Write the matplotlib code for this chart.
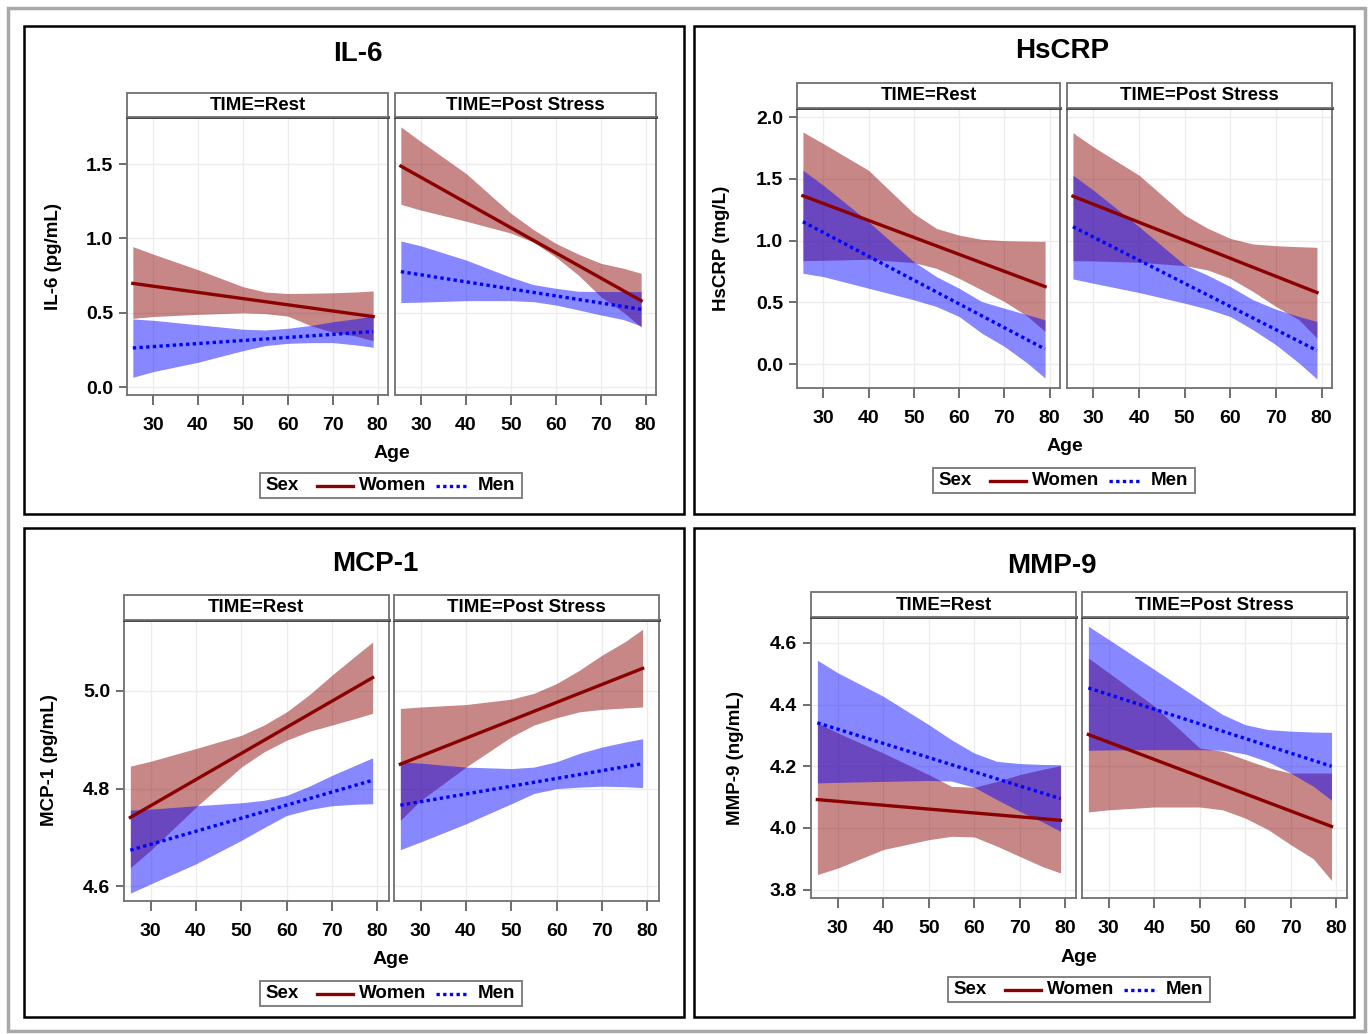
import matplotlib
matplotlib.use('Agg')
import matplotlib.pyplot as plt
from matplotlib.patches import Rectangle
from matplotlib.lines import Line2D


# ==========================================
# DATA
# ==========================================

AGES = [25.5, 30, 40, 50, 55, 60, 65, 70, 75, 79]   # ages of the band outline
LINE_AGES = [25.5, 79]                               # fitted lines are straight
AGE_TICKS = [30, 40, 50, 60, 70, 80]
TIMES = ['Rest', 'Post Stress']
SEXES = ['Women', 'Men']

# IL-6, TIME=Rest
il6_rest_w_lo = [0.463, 0.475, 0.49, 0.50, 0.495, 0.478, 0.415, 0.37, 0.345, 0.313]
il6_rest_w_hi = [0.945, 0.895, 0.79, 0.676, 0.64, 0.63, 0.632, 0.635, 0.64, 0.647]
il6_rest_m_lo = [0.067, 0.105, 0.168, 0.246, 0.28, 0.295, 0.30, 0.30, 0.285, 0.269]
il6_rest_m_hi = [0.459, 0.45, 0.42, 0.39, 0.385, 0.396, 0.415, 0.44, 0.46, 0.479]
il6_rest_w_fit = [0.698, 0.475]
il6_rest_m_fit = [0.264, 0.374]
# IL-6, TIME=Post Stress
il6_post_w_lo = [1.229, 1.19, 1.116, 1.036, 0.975, 0.875, 0.754, 0.609, 0.505, 0.403]
il6_post_w_hi = [1.75, 1.65, 1.437, 1.169, 1.06, 0.967, 0.895, 0.833, 0.80, 0.766]
il6_post_m_lo = [0.569, 0.572, 0.582, 0.582, 0.575, 0.553, 0.52, 0.486, 0.455, 0.412]
il6_post_m_hi = [0.983, 0.95, 0.855, 0.739, 0.69, 0.665, 0.645, 0.643, 0.643, 0.643]
il6_post_w_fit = [1.486, 0.582]
il6_post_m_fit = [0.777, 0.524]

# HsCRP, TIME=Rest
crp_rest_w_lo = [0.837, 0.84, 0.848, 0.821, 0.775, 0.694, 0.60, 0.506, 0.39, 0.264]
crp_rest_w_hi = [1.879, 1.785, 1.569, 1.219, 1.098, 1.044, 1.01, 0.999, 0.995, 0.993]
crp_rest_m_lo = [0.735, 0.708, 0.614, 0.52, 0.466, 0.385, 0.25, 0.143, 0.01, -0.113]
crp_rest_m_hi = [1.569, 1.448, 1.152, 0.829, 0.708, 0.614, 0.506, 0.452, 0.40, 0.358]
crp_rest_w_fit = [1.362, 0.627]
crp_rest_m_fit = [1.152, 0.121]
# HsCRP, TIME=Post Stress
crp_post_w_lo = [0.837, 0.835, 0.824, 0.797, 0.762, 0.694, 0.587, 0.466, 0.36, 0.21]
crp_post_w_hi = [1.873, 1.758, 1.529, 1.206, 1.10, 1.017, 0.972, 0.958, 0.95, 0.945]
crp_post_m_lo = [0.689, 0.654, 0.579, 0.493, 0.445, 0.385, 0.277, 0.156, 0.01, -0.121]
crp_post_m_hi = [1.529, 1.408, 1.112, 0.802, 0.72, 0.627, 0.52, 0.444, 0.385, 0.345]
crp_post_w_fit = [1.359, 0.579]
crp_post_m_fit = [1.112, 0.11]

# MCP-1, TIME=Rest
mcp_rest_w_lo = [4.638, 4.674, 4.762, 4.844, 4.875, 4.899, 4.917, 4.93, 4.943, 4.954]
mcp_rest_w_hi = [4.846, 4.856, 4.882, 4.909, 4.93, 4.957, 4.992, 5.032, 5.07, 5.100]
mcp_rest_m_lo = [4.586, 4.605, 4.646, 4.694, 4.72, 4.745, 4.757, 4.765, 4.768, 4.769]
mcp_rest_m_hi = [4.756, 4.758, 4.765, 4.771, 4.776, 4.786, 4.805, 4.827, 4.847, 4.863]
mcp_rest_w_fit = [4.741, 5.027]
mcp_rest_m_fit = [4.674, 4.817]
# MCP-1, TIME=Post Stress
mcp_post_w_lo = [4.735, 4.776, 4.844, 4.906, 4.93, 4.945, 4.957, 4.962, 4.965, 4.967]
mcp_post_w_hi = [4.964, 4.967, 4.972, 4.983, 4.995, 5.015, 5.042, 5.073, 5.10, 5.126]
mcp_post_m_lo = [4.675, 4.691, 4.728, 4.769, 4.79, 4.80, 4.803, 4.805, 4.804, 4.802]
mcp_post_m_hi = [4.855, 4.852, 4.844, 4.841, 4.844, 4.855, 4.872, 4.885, 4.895, 4.902]
mcp_post_w_fit = [4.85, 5.046]
mcp_post_m_fit = [4.766, 4.851]

# MMP-9, TIME=Rest
mmp_rest_w_lo = [3.849, 3.87, 3.93, 3.962, 3.973, 3.971, 3.941, 3.908, 3.875, 3.854]
mmp_rest_w_hi = [4.341, 4.308, 4.243, 4.173, 4.135, 4.132, 4.151, 4.173, 4.19, 4.202]
mmp_rest_m_lo = [4.146, 4.148, 4.151, 4.154, 4.152, 4.132, 4.092, 4.054, 4.02, 3.989]
mmp_rest_m_hi = [4.544, 4.503, 4.427, 4.335, 4.286, 4.243, 4.216, 4.209, 4.206, 4.205]
mmp_rest_w_fit = [4.092, 4.025]
mmp_rest_m_fit = [4.341, 4.095]
# MMP-9, TIME=Post Stress
mmp_post_w_lo = [4.052, 4.059, 4.068, 4.068, 4.059, 4.032, 3.995, 3.946, 3.90, 3.83]
mmp_post_w_hi = [4.551, 4.503, 4.395, 4.259, 4.249, 4.222, 4.196, 4.178, 4.178, 4.178]
mmp_post_m_lo = [4.252, 4.253, 4.254, 4.254, 4.252, 4.240, 4.215, 4.178, 4.135, 4.09]
mmp_post_m_hi = [4.654, 4.611, 4.514, 4.416, 4.368, 4.335, 4.319, 4.314, 4.311, 4.31]
mmp_post_w_fit = [4.303, 4.005]
mmp_post_m_fit = [4.454, 4.2]


# ==========================================
# LAYOUT (pixel positions on a 1372x1034 canvas)
# ==========================================

W, H = 1372, 1034
WOMEN_COLOR = '#8b0000'
MEN_COLOR = '#0000ff'
FRAME_COLOR = '#707070'

PANELS = [
    dict(title='IL-6', ylabel='IL-6 (pg/mL)',
         box=(24, 26, 684, 514), title_xy=(358, 54),
         facets=[(127, 388), (395, 656)], head=(93, 117), bottom=395,
         xlim=(24.2, 82.3), ylim=(-0.052, 1.816), yticks=[0.0, 0.5, 1.0, 1.5],
         ylabel_xy=(54, 256), age_xy=(391.5, 453), legend_xy=(260, 473),
         data=[(il6_rest_w_lo, il6_rest_w_hi, il6_rest_m_lo, il6_rest_m_hi, il6_rest_w_fit, il6_rest_m_fit),
               (il6_post_w_lo, il6_post_w_hi, il6_post_m_lo, il6_post_m_hi, il6_post_w_fit, il6_post_m_fit)]),
    dict(title='HsCRP', ylabel='HsCRP (mg/L)',
         box=(694, 26, 1354, 514), title_xy=(1062, 51),
         facets=[(797, 1060), (1067, 1332)], head=(83, 108), bottom=388,
         xlim=(24.2, 82.3), ylim=(-0.194, 2.073), yticks=[0.0, 0.5, 1.0, 1.5, 2.0],
         ylabel_xy=(721, 248), age_xy=(1064.5, 447), legend_xy=(933, 468),
         data=[(crp_rest_w_lo, crp_rest_w_hi, crp_rest_m_lo, crp_rest_m_hi, crp_rest_w_fit, crp_rest_m_fit),
               (crp_post_w_lo, crp_post_w_hi, crp_post_m_lo, crp_post_m_hi, crp_post_w_fit, crp_post_m_fit)]),
    dict(title='MCP-1', ylabel='MCP-1 (pg/mL)',
         box=(24, 528, 684, 1017), title_xy=(375, 564),
         facets=[(124, 388.5), (394, 658.5)], head=(595, 620), bottom=901,
         xlim=(24.1, 82.5), ylim=(4.570, 5.145), yticks=[4.6, 4.8, 5.0],
         ylabel_xy=(49, 760), age_xy=(391, 960), legend_xy=(260, 981),
         data=[(mcp_rest_w_lo, mcp_rest_w_hi, mcp_rest_m_lo, mcp_rest_m_hi, mcp_rest_w_fit, mcp_rest_m_fit),
               (mcp_post_w_lo, mcp_post_w_hi, mcp_post_m_lo, mcp_post_m_hi, mcp_post_w_fit, mcp_post_m_fit)]),
    dict(title='MMP-9', ylabel='MMP-9 (ng/mL)',
         box=(694, 528, 1354, 1017), title_xy=(1052, 566),
         facets=[(811, 1076), (1082, 1347)], head=(592, 617), bottom=898,
         xlim=(24.1, 82.4), ylim=(3.773, 4.684), yticks=[3.8, 4.0, 4.2, 4.4, 4.6],
         ylabel_xy=(736, 758), age_xy=(1079, 957), legend_xy=(948, 977),
         data=[(mmp_rest_w_lo, mmp_rest_w_hi, mmp_rest_m_lo, mmp_rest_m_hi, mmp_rest_w_fit, mmp_rest_m_fit),
               (mmp_post_w_lo, mmp_post_w_hi, mmp_post_m_lo, mmp_post_m_hi, mmp_post_w_fit, mmp_post_m_fit)]),
]


def fx(x):
    return x / W


def fy(y):
    return 1 - y / H


def add_rect(fig, x0, y0, x1, y1, **kw):
    fig.add_artist(Rectangle((fx(x0), fy(y1)), (x1 - x0) / W, (y1 - y0) / H,
                             transform=fig.transFigure, **kw))


def draw_facet(fig, panel, idx):
    x0, x1 = panel['facets'][idx]
    top, bottom = panel['head'][1], panel['bottom']
    w_lo, w_hi, m_lo, m_hi, w_fit, m_fit = panel['data'][idx]

    ax = fig.add_axes([fx(x0), fy(bottom), (x1 - x0) / W, (bottom - top) / H])
    ax.fill_between(AGES, w_lo, w_hi, color=WOMEN_COLOR, alpha=0.47, lw=0)
    ax.fill_between(AGES, m_lo, m_hi, color=MEN_COLOR, alpha=0.47, lw=0)
    ax.plot(LINE_AGES, w_fit, color=WOMEN_COLOR, lw=2.4)
    ax.plot(LINE_AGES, m_fit, color=MEN_COLOR, lw=2.4, ls=(0, (1, 1)))

    ax.set_xlim(*panel['xlim'])
    ax.set_ylim(*panel['ylim'])
    ax.set_xticks(AGE_TICKS)
    ax.set_yticks(panel['yticks'])
    ax.grid(color='#ececec', lw=1)
    ax.set_axisbelow(True)
    for side in ['left', 'right', 'bottom']:
        ax.spines[side].set_color(FRAME_COLOR)
        ax.spines[side].set_linewidth(1.3)
    ax.spines['top'].set_color('#333333')
    ax.spines['top'].set_linewidth(2)

    ax.tick_params(axis='x', direction='out', length=7, width=1.2, color='#555555',
                   labelsize=14, pad=9)
    if idx == 0:
        ax.set_yticklabels([f'{v:.1f}' for v in panel['yticks']])
        ax.tick_params(axis='y', direction='out', length=6, width=1.2, color='#555555',
                       labelsize=14, pad=4)
    else:
        ax.tick_params(axis='y', left=False, labelleft=False)
    for lab in ax.get_xticklabels() + ax.get_yticklabels():
        lab.set_fontweight('bold')

    # facet header
    h0, h1 = panel['head']
    add_rect(fig, x0, h0, x1, h1, facecolor='white', edgecolor=FRAME_COLOR, lw=1.3)
    fig.text(fx((x0 + x1) / 2), fy((h0 + h1) / 2 + 0.5), f'TIME={TIMES[idx]}',
             ha='center', va='center', fontsize=13.5, fontweight='bold')


def draw_legend(fig, lx, ly):
    add_rect(fig, lx, ly, lx + 262, ly + 25, facecolor='white', edgecolor='#777777', lw=1.3)
    yc = fy(ly + 12.5)
    fig.text(fx(lx + 5.5), yc, 'Sex', ha='left', va='center', fontsize=13.5, fontweight='bold')
    fig.add_artist(Line2D([fx(lx + 56.6), fx(lx + 92.8)], [yc, yc], color=WOMEN_COLOR,
                          lw=2.4, transform=fig.transFigure))
    fig.text(fx(lx + 99), yc, SEXES[0], ha='left', va='center', fontsize=13.5, fontweight='bold')
    fig.add_artist(Line2D([fx(lx + 175.7), fx(lx + 209)], [yc, yc], color=MEN_COLOR,
                          lw=2.4, ls=(0, (1, 1)), transform=fig.transFigure))
    fig.text(fx(lx + 217.4), yc, SEXES[1], ha='left', va='center', fontsize=13.5, fontweight='bold')


def main():
    plt.rcParams['font.family'] = ['Liberation Sans', 'DejaVu Sans']
    fig = plt.figure(figsize=(W / 100, H / 100), dpi=100)

    # light grey outer frame
    add_rect(fig, 8, 8, 1365, 1031, facecolor='none', edgecolor='#a8a8a8', lw=2.5)

    for panel in PANELS:
        bx0, by0, bx1, by1 = panel['box']
        add_rect(fig, bx0, by0, bx1, by1, facecolor='none', edgecolor='black', lw=1.8)
        tx, ty = panel['title_xy']
        fig.text(fx(tx), fy(ty), panel['title'], ha='center', va='center',
                 fontsize=20, fontweight='bold')
        for idx in range(2):
            draw_facet(fig, panel, idx)
        lx, ly = panel['ylabel_xy']
        fig.text(fx(lx), fy(ly), panel['ylabel'], rotation=90, ha='center', va='center',
                 fontsize=13.5, fontweight='bold')
        ax_, ay_ = panel['age_xy']
        fig.text(fx(ax_), fy(ay_), 'Age', ha='center', va='center',
                 fontsize=14, fontweight='bold')
        draw_legend(fig, *panel['legend_xy'])

    fig.savefig('out.png', dpi=100)


if __name__ == "__main__":
    main()
